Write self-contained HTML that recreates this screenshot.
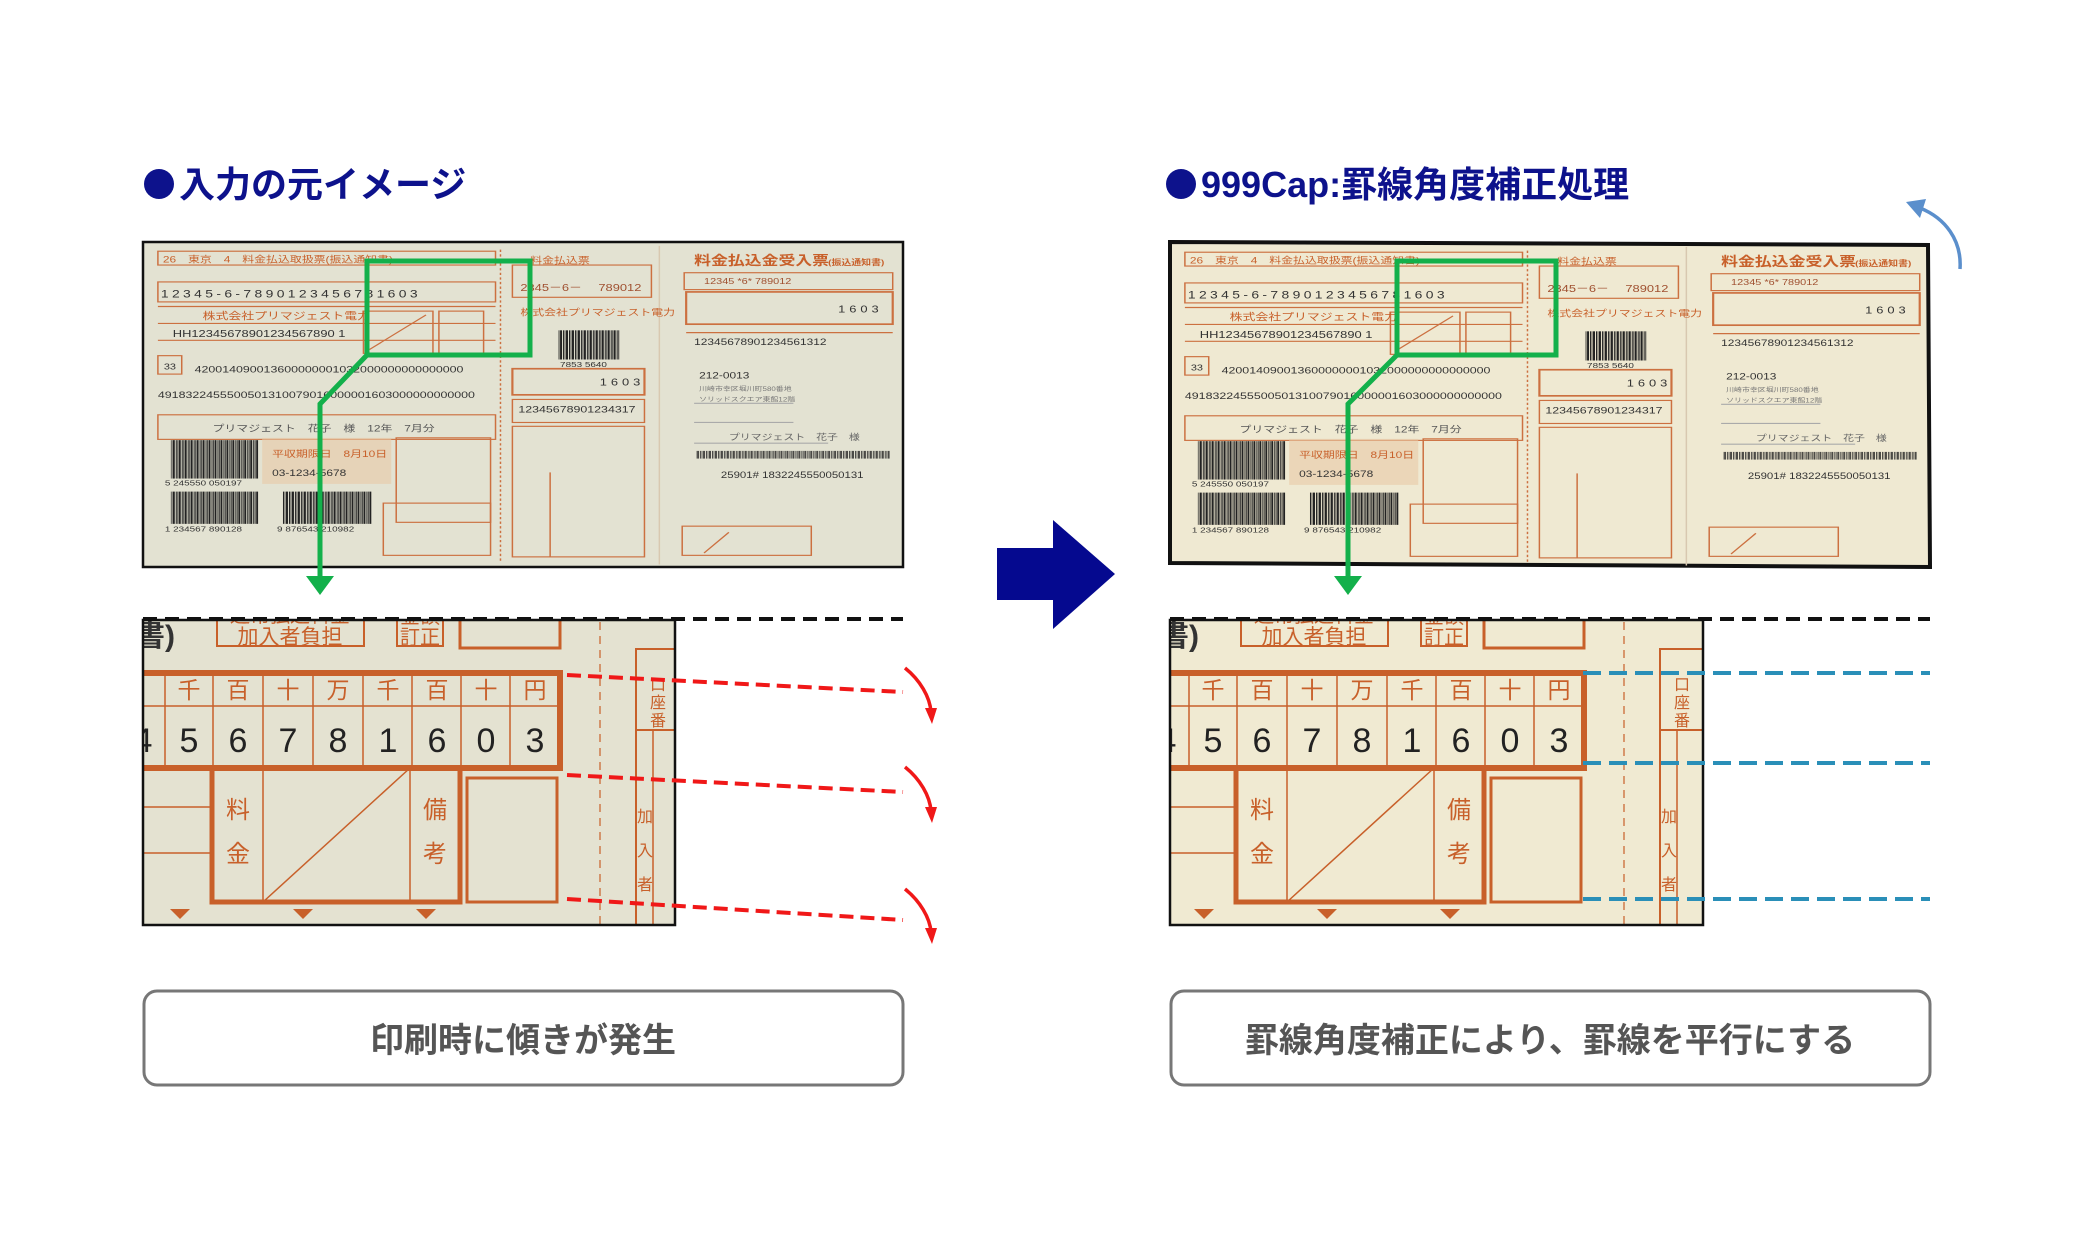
<!DOCTYPE html>
<html><head><meta charset="utf-8"><style>
html,body{margin:0;padding:0;background:#fff;}
svg{display:block;}
text{font-family:"Liberation Sans","Noto Sans CJK JP",sans-serif;}
</style></head><body>
<svg width="2076" height="1250" viewBox="0 0 2076 1250" xmlns="http://www.w3.org/2000/svg">
<defs>
<pattern id="bc" width="6" height="10" patternUnits="userSpaceOnUse">
<rect x="0" y="0" width="2" height="10" fill="#222"/><rect x="3" y="0" width="1" height="10" fill="#222"/><rect x="4.6" y="0" width="0.8" height="10" fill="#222"/>
</pattern>
<clipPath id="cl1"><rect x="143" y="620" width="532" height="305"/></clipPath>
<clipPath id="cl2"><rect x="1170" y="620" width="533" height="305"/></clipPath>
<g id="form">
<g fill="none" stroke="#cc7040" stroke-width="1.5">
<rect x="15" y="12" width="340" height="18"/>
<rect x="15" y="52" width="340" height="26"/>
<line x1="15" y1="84" x2="355" y2="84"/>
<line x1="15" y1="106" x2="355" y2="106"/>
<line x1="15" y1="128" x2="355" y2="128"/>
<rect x="15" y="148" width="24" height="24"/>
<rect x="15" y="225" width="340" height="32"/>
<rect x="255" y="255" width="95" height="110"/>
<rect x="222" y="90" width="70" height="55"/>
<line x1="228" y1="140" x2="285" y2="95"/>
<rect x="298" y="90" width="45" height="55"/>
<line x1="360" y1="10" x2="360" y2="415" stroke-dasharray="3 3"/>
<line x1="520" y1="5" x2="520" y2="420" stroke="#d8c8b0"/>
<rect x="372" y="30" width="140" height="42"/>
<rect x="372" y="165" width="133" height="34" stroke-width="2.2"/>
<rect x="372" y="205" width="133" height="30"/>
<rect x="372" y="240" width="133" height="170"/>
<line x1="410" y1="300" x2="410" y2="410"/>
<rect x="545" y="40" width="210" height="22"/>
<rect x="547" y="65" width="208" height="42" stroke-width="2.2"/>
<line x1="547" y1="118" x2="755" y2="118"/>
<line x1="555" y1="210" x2="655" y2="210" stroke="#aaa"/>
<line x1="555" y1="235" x2="655" y2="235" stroke="#aaa"/>
<line x1="555" y1="262" x2="690" y2="262" stroke="#aaa"/>
<rect x="543" y="370" width="130" height="38"/>
<line x1="565" y1="405" x2="590" y2="378"/>
<rect x="120" y="255" width="130" height="60" fill="#e8c9a6" stroke="none" opacity="0.6"/>
<rect x="242" y="340" width="108" height="68"/>
</g>
<g fill="#c8602a" font-size="12">
<text x="20" y="27">26　東京　4　料金払込取扱票(振込通知書)</text>
<text x="60" y="101" font-size="13">株式会社プリマジェスト電力</text>
<text x="390" y="28" font-size="12">料金払込票</text>
<text x="380" y="96" font-size="12">株式会社プリマジェスト電力</text>
<text x="555" y="30" font-size="17" font-weight="bold">料金払込金受入票</text>
<text x="690" y="30" font-size="10" font-weight="bold">(振込通知書)</text>
<text x="130" y="280">平収期限日　8月10日</text>
<text x="70" y="247" fill="#555">プリマジェスト　花子　様　12年　7月分</text>
</g>
<g fill="#333" font-size="13">
<text x="18" y="72" font-size="14" letter-spacing="3.4">12345-6-7890123456781603</text>
<text x="30" y="124">HH12345678901234567890 1</text>
<text x="21" y="166" font-size="11">33</text>
<text x="52" y="170" font-size="12.5">420014090013600000001032000000000000000</text>
<text x="15" y="203" font-size="12.5">4918322455500501310079016000001603000000000000</text>
<text x="130" y="305" font-size="12">03-1234-5678</text>
<text x="380" y="64" fill="#a05030">2345－6－　 789012</text>
<text x="460" y="187" letter-spacing="4">1603</text>
<text x="378" y="222" font-size="12.5">12345678901234317</text>
<text x="565" y="55" font-size="11" fill="#a05030">12345 *6* 789012</text>
<text x="700" y="92" letter-spacing="4">1603</text>
<text x="555" y="134" font-size="12">12345678901234561312</text>
<text x="560" y="178" font-size="12">212-0013</text>
<text x="560" y="194" font-size="8" fill="#777">川崎市幸区堀川町580番地</text>
<text x="560" y="208" font-size="8" fill="#777">ソリッドスクエア東館12階</text>
<text x="590" y="258" font-size="11" fill="#666">プリマジェスト　花子　様</text>
<text x="582" y="307" font-size="11.5">25901#  1832245550050131</text>
<text x="22" y="317" font-size="10">5 245550 050197</text>
<text x="22" y="377" font-size="10">1 234567 890128</text>
<text x="135" y="377" font-size="10">9 876543 210982</text>
<text x="420" y="163" font-size="10">7853 5640</text>
</g>
<rect x="28" y="258" width="88" height="50" fill="url(#bc)"/>
<rect x="28" y="325" width="88" height="42" fill="url(#bc)"/>
<rect x="140" y="325" width="90" height="42" fill="url(#bc)"/>
<rect x="418" y="115" width="62" height="38" fill="url(#bc)"/>
<rect x="557" y="272" width="195" height="10" fill="url(#bc)" opacity="0.8"/>
</g>
<g id="crop">
<g fill="none" stroke="#c8602a">
<rect x="74" y="-8" width="147" height="32" stroke-width="2"/>
<rect x="254" y="-8" width="46" height="32" stroke-width="2"/>
<rect x="317" y="-8" width="100" height="34" stroke-width="3"/>
<line x1="-10" y1="51" x2="417" y2="51" stroke-width="6"/>
<line x1="-10" y1="84" x2="417" y2="84" stroke-width="1.5"/>
<line x1="-10" y1="146" x2="417" y2="146" stroke-width="6"/>
<line x1="417" y1="48" x2="417" y2="149" stroke-width="6"/>
<g stroke-width="1.5">
<line x1="22" y1="51" x2="22" y2="146"/><line x1="70" y1="51" x2="70" y2="146"/><line x1="120" y1="51" x2="120" y2="146"/><line x1="170" y1="51" x2="170" y2="146"/><line x1="220" y1="51" x2="220" y2="146"/><line x1="269" y1="51" x2="269" y2="146"/><line x1="318" y1="51" x2="318" y2="146"/><line x1="367" y1="51" x2="367" y2="146"/>
</g>
<rect x="69" y="146" width="248" height="134" stroke-width="5"/>
<line x1="120" y1="146" x2="120" y2="280" stroke-width="1.5"/>
<line x1="267" y1="146" x2="267" y2="280" stroke-width="1.5"/>
<line x1="120" y1="280" x2="267" y2="146" stroke-width="1.5"/>
<rect x="324" y="156" width="90" height="124" stroke-width="3"/>
<line x1="-10" y1="185" x2="69" y2="185" stroke-width="1.5"/>
<line x1="-10" y1="231" x2="69" y2="231" stroke-width="1.5"/>
<line x1="457" y1="0" x2="457" y2="310" stroke-width="1.2" stroke-dasharray="8 6"/>
<rect x="493" y="27" width="44" height="300" stroke-width="2"/>
<line x1="493" y1="108" x2="537" y2="108" stroke-width="2"/>
<line x1="510" y1="108" x2="510" y2="310" stroke-width="1.5"/>
</g>
<g fill="#c8602a" text-anchor="middle">
<text x="147" y="0" font-size="20">通常払込料金</text>
<text x="147" y="22" font-size="21">加入者負担</text>
<text x="277" y="1" font-size="20">金額</text>
<text x="277" y="22" font-size="20">訂正</text>
<g font-size="23">
<text x="46" y="76">千</text><text x="95" y="76">百</text><text x="145" y="76">十</text><text x="195" y="76">万</text><text x="245" y="76">千</text><text x="294" y="76">百</text><text x="343" y="76">十</text><text x="392" y="76">円</text>
</g>
<g font-size="24">
<text x="95" y="196">料</text><text x="95" y="240">金</text>
<text x="292" y="196">備</text><text x="292" y="240">考</text>
</g>
<g font-size="16">
<text x="515" y="68">口</text><text x="515" y="86">座</text><text x="515" y="104">番</text>
<text x="502" y="200">加</text><text x="502" y="234">入</text><text x="502" y="268">者</text>
</g>
</g>
<text x="-8" y="24" font-size="30" font-weight="bold" fill="#333">書)</text>
<g fill="#222" font-size="34" text-anchor="middle">
<text x="0" y="130">4</text><text x="46" y="130">5</text><text x="95" y="130">6</text><text x="145" y="130">7</text><text x="195" y="130">8</text><text x="245" y="130">1</text><text x="294" y="130">6</text><text x="343" y="130">0</text><text x="392" y="130">3</text>
</g>
<g fill="#c8602a">
<polygon points="27,287 47,287 37,297"/><polygon points="150,287 170,287 160,297"/><polygon points="273,287 293,287 283,297"/>
</g>
</g>
</defs>

<!-- titles -->
<circle cx="159" cy="184" r="15" fill="#0d128c"/>
<text x="179" y="197" font-size="36" font-weight="bold" fill="#0d128c">入力の元イメージ</text>
<circle cx="1181" cy="184" r="15" fill="#0d128c"/>
<text x="1201" y="197" font-size="36" font-weight="bold" fill="#0d128c">999Cap:罫線角度補正処理</text>

<!-- top left image -->
<rect x="143" y="242" width="760" height="325" fill="#e3e2d2" stroke="#111" stroke-width="2.5"/>
<g transform="translate(143,242) scale(0.993,0.768)"><use href="#form"/></g>
<rect x="367" y="261" width="163" height="94" fill="none" stroke="#13b04b" stroke-width="5"/>
<polyline points="367,355 320,404 320,578" fill="none" stroke="#13b04b" stroke-width="5"/>
<polygon points="306,576 334,576 320,595" fill="#13b04b"/>

<!-- top right image -->
<polygon points="1170,242 1928,245 1930,567 1170,563" fill="#efe9d2" stroke="#111" stroke-width="4"/>
<g transform="translate(1170,243) scale(0.993,0.768)"><use href="#form"/></g>
<rect x="1397" y="261" width="159" height="94" fill="none" stroke="#13b04b" stroke-width="5"/>
<polyline points="1397,355 1348,404 1348,578" fill="none" stroke="#13b04b" stroke-width="5"/>
<polygon points="1334,576 1362,576 1348,595" fill="#13b04b"/>

<!-- blue curved arrow -->
<path d="M1960,269 C1962,240 1945,218 1920,208" fill="none" stroke="#5b8fcc" stroke-width="3.5"/>
<polygon points="1906,202 1926,199 1920,218" fill="#5b8fcc"/>

<!-- big arrow -->
<polygon points="997,548 1053,548 1053,520 1115,574 1053,629 1053,600 997,600" fill="#05098f"/>

<!-- bottom left crop -->
<rect x="143" y="620" width="532" height="305" fill="#e4e2d1"/>
<g clip-path="url(#cl1)"><g transform="translate(143,622)"><use href="#crop"/></g></g>
<rect x="143" y="620" width="532" height="305" fill="none" stroke="#111" stroke-width="2.5"/>
<line x1="143" y1="619" x2="903" y2="619" stroke="#111" stroke-width="4" stroke-dasharray="14 8"/>
<g stroke="#f01818" stroke-width="4" stroke-dasharray="14 7" fill="none">
<line x1="567" y1="675" x2="903" y2="692"/>
<line x1="567" y1="775" x2="903" y2="792"/>
<line x1="567" y1="899" x2="903" y2="920"/>
</g>
<g stroke="#f01818" stroke-width="3.5" fill="none">
<path d="M905,668 C920,680 930,697 931,712"/>
<path d="M905,767 C920,779 930,796 931,811"/>
<path d="M905,889 C920,901 930,918 931,932"/>
</g>
<g fill="#f01818">
<polygon points="925,708 937,708 932,724"/>
<polygon points="925,807 937,807 932,823"/>
<polygon points="925,928 937,928 932,944"/>
</g>

<!-- bottom right crop -->
<rect x="1170" y="620" width="533" height="305" fill="#f0ead2"/>
<g clip-path="url(#cl2)"><g transform="translate(1167,622)"><use href="#crop"/></g></g>
<rect x="1170" y="620" width="533" height="305" fill="none" stroke="#111" stroke-width="2.5"/>
<line x1="1170" y1="619" x2="1930" y2="619" stroke="#111" stroke-width="4" stroke-dasharray="14 8"/>
<g stroke="#2a8fb8" stroke-width="4" stroke-dasharray="18 8" fill="none">
<line x1="1583" y1="673" x2="1930" y2="673"/>
<line x1="1583" y1="763" x2="1930" y2="763"/>
<line x1="1583" y1="899" x2="1930" y2="899"/>
</g>

<!-- bottom labels -->
<rect x="144" y="991" width="759" height="94" rx="13" fill="#fff" stroke="#777" stroke-width="3"/>
<text x="523" y="1052" font-size="34" font-weight="bold" fill="#555" text-anchor="middle">印刷時に傾きが発生</text>
<rect x="1171" y="991" width="759" height="94" rx="13" fill="#fff" stroke="#777" stroke-width="3"/>
<text x="1550" y="1052" font-size="34" font-weight="bold" fill="#555" text-anchor="middle">罫線角度補正により、罫線を平行にする</text>
</svg>
</body></html>
